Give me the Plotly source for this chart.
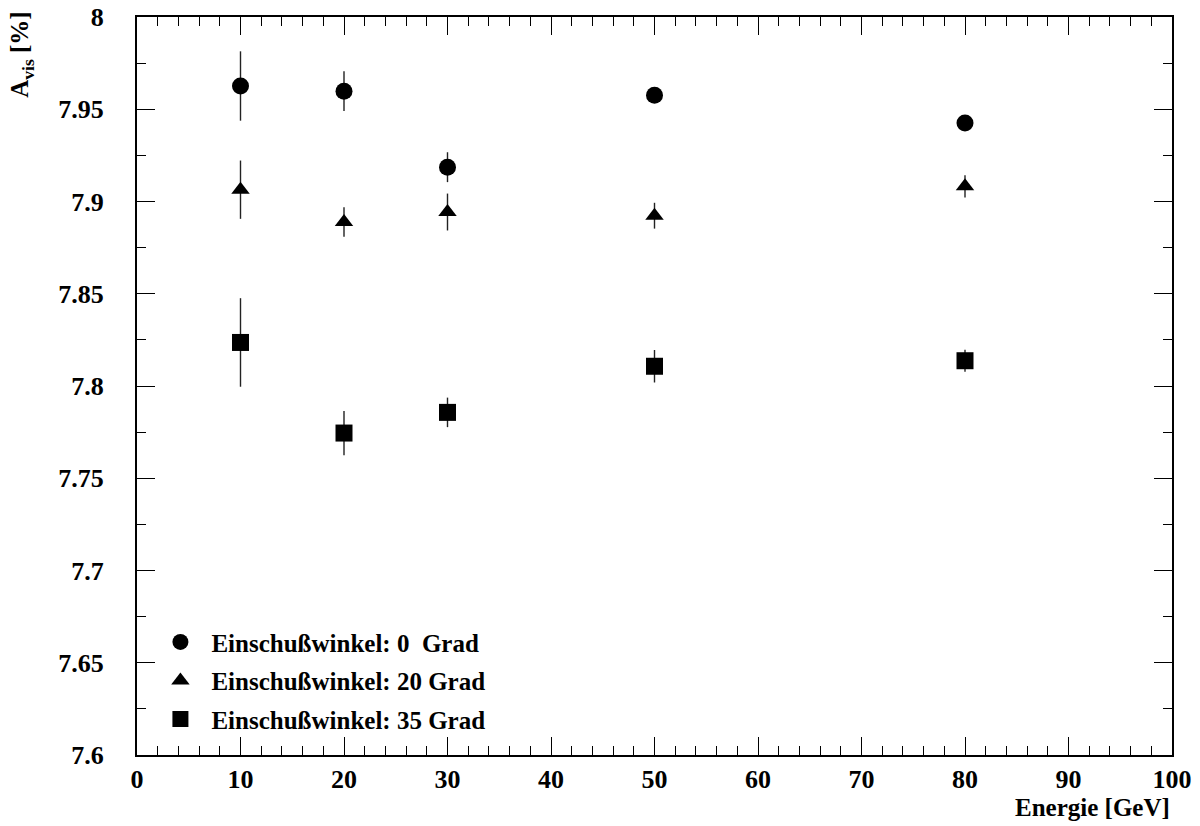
import plotly.graph_objects as go

# Beam energies [GeV]
energie = [10, 20, 30, 50, 80]

# Visible fraction A_vis [%] and its uncertainty for three incidence angles
avis_0 = [7.9626, 7.9598, 7.9186, 7.9576, 7.9426]
err_0 = [0.0188, 0.0108, 0.0081, 0.0035, 0.0030]

avis_20 = [7.9064, 7.8889, 7.8943, 7.8923, 7.9082]
err_20 = [0.0158, 0.0080, 0.0100, 0.0070, 0.0060]

avis_35 = [7.8236, 7.7745, 7.7857, 7.8107, 7.8137]
err_35 = [0.0240, 0.0120, 0.0080, 0.0088, 0.0060]

series_names = [
    "Einschußwinkel: 0  Grad",
    "Einschußwinkel: 20 Grad",
    "Einschußwinkel: 35 Grad",
]

y_tickvals = [7.6, 7.65, 7.7, 7.75, 7.8, 7.85, 7.9, 7.95, 8.0]
y_ticktext = ["7.6", "7.65", "7.7", "7.75", "7.8", "7.85", "7.9", "7.95", "8"]
x_tickvals = [0, 10, 20, 30, 40, 50, 60, 70, 80, 90, 100]
x_ticktext = ["0", "10", "20", "30", "40", "50", "60", "70", "80", "90", "100"]

FONT = "Liberation Serif"


def bold(s):
    return "<b>" + s + "</b>"


fig = go.Figure()

for i, (name, ys, errs, sym, size) in enumerate([
    (series_names[0], avis_0, err_0, "circle", 17),
    (series_names[1], avis_20, err_20, "triangle-up", 16),
    (series_names[2], avis_35, err_35, "square", 17),
]):
    fig.add_trace(go.Scatter(
        x=energie, y=ys, mode="markers", name=bold(name),
        legendgroup="g%d" % i,
        marker=dict(symbol=sym, size=size, color="black", line=dict(width=0)),
        error_y=dict(type="data", array=errs, visible=True,
                     color="#222222", thickness=1.4, width=0),
    ))

tick_font = dict(family=FONT, size=26, color="black")

axis_common = dict(
    showline=True, linecolor="black", linewidth=2, mirror="allticks",
    ticks="inside", ticklen=18, tickwidth=1.2, tickcolor="black",
    showgrid=False, zeroline=False, automargin=False,
    tickfont=tick_font,
)

fig.update_xaxes(
    range=[0, 100], tickmode="array", tickvals=x_tickvals,
    ticktext=[bold(t) for t in x_ticktext],
    minor=dict(dtick=2, ticks="inside", ticklen=9, tickwidth=1.2, tickcolor="black"),
    ticklabelstandoff=0,
    **axis_common,
)
fig.update_yaxes(
    range=[7.6, 8.0], tickmode="array", tickvals=y_tickvals,
    ticktext=[bold(t) for t in y_ticktext],
    minor=dict(dtick=0.025, tick0=7.6, ticks="inside", ticklen=9, tickwidth=1.2,
               tickcolor="black"),
    ticklabelstandoff=26,
    **axis_common,
)

fig.add_annotation(
    text=bold("Energie [GeV]"), xref="paper", yref="paper", x=1.0, y=-0.05,
    xanchor="right", yanchor="top", showarrow=False,
    font=dict(family=FONT, size=25, color="black"),
)
fig.add_annotation(
    text=bold("A<sub>vis</sub> [%]"), xref="paper", yref="paper", x=-0.111, y=1.01,
    xanchor="center", yanchor="top", textangle=-90, showarrow=False,
    font=dict(family=FONT, size=25, color="black"),
)

fig.update_layout(
    width=1200, height=826,
    margin=dict(l=137, r=28, t=17, b=71),
    paper_bgcolor="white", plot_bgcolor="white",
    showlegend=True,
    legend=dict(
        x=0.012, y=0.184, xanchor="left", yanchor="top",
        bgcolor="rgba(0,0,0,0)", borderwidth=0,
        font=dict(family=FONT, size=25, color="black"),
        itemwidth=52, tracegroupgap=3,
    ),
)

fig.write_html("out.html")
